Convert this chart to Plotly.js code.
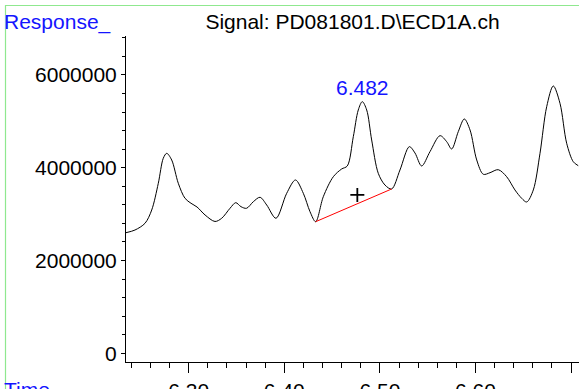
<!DOCTYPE html>
<html>
<head>
<meta charset="utf-8">
<script src="https://cdn.plot.ly/plotly-3.0.1.min.js"></script>
<style>
html,body{margin:0;padding:0;background:#fff;overflow:hidden;}
#chart{width:579px;height:389px;}
</style>
</head>
<body>
<div id="chart"></div>
<script>
// Retention time (min)
const time = [6.2344, 6.2438, 6.2543, 6.2613, 6.2682, 6.2734, 6.2770, 6.2822, 6.2891, 6.2961,
  6.3024, 6.3087, 6.3171, 6.3275, 6.3345, 6.3432, 6.3492, 6.3547, 6.3605, 6.3676,
  6.3746, 6.3816, 6.3913, 6.4025, 6.4117, 6.4199, 6.4269, 6.4328, 6.4408, 6.4513,
  6.4600, 6.4659, 6.4722, 6.4774, 6.4816, 6.4862, 6.4914, 6.4983, 6.5053, 6.5123,
  6.5210, 6.5308, 6.5367, 6.5437, 6.5524, 6.5629, 6.5699, 6.5751, 6.5820, 6.5883,
  6.5943, 6.6013, 6.6082, 6.6152, 6.6238, 6.6326, 6.6413, 6.6483, 6.6536, 6.6605,
  6.6675, 6.6745, 6.6814, 6.6884, 6.6954, 6.7023, 6.7075];
// Detector response
const response = [2599000, 2657000, 2802000, 3088000, 3664000, 4203000, 4310000, 4166000, 3664000, 3341000,
  3233000, 3153000, 2981000, 2841000, 2910000, 3125000, 3246000, 3160000, 3125000, 3267000,
  3362000, 3196000, 2910000, 3448000, 3735000, 3448000, 3052000, 2836000, 3375000, 3806000,
  3972000, 4037000, 4668000, 5244000, 5423000, 5244000, 4597000, 3879000, 3627000, 3541000,
  3950000, 4453000, 4317000, 4037000, 4345000, 4690000, 4560000, 4403000, 4776000, 5050000,
  4813000, 4166000, 3858000, 3892000, 3957000, 3806000, 3520000, 3341000, 3261000, 3520000,
  4310000, 5315000, 5761000, 5388000, 4526000, 4129000, 4043000];
// Integration baseline of the labelled peak
const baselineTime = [6.4328, 6.5123];
const baselineResponse = [2836000, 3541000];
// Labelled peak and its centroid marker
const peakTime = 6.4816;
const peakResponse = 5423000;
const peakLabel = "6.482";
const crossTime = [6.4764];
const crossResponse = [3412000];

const xRange = [6.2344, 6.7083];
const yRange = [-187500, 6838000];

const FONT = "Liberation Sans, Arial, sans-serif";
const FS = 21;
const BLUE = "#1414ff";
const GREEN = "#8fe88f";

const data = [
  {x: time, y: response, type: "scatter", mode: "lines",
   line: {color: "#000", width: 1, shape: "spline", smoothing: 0.9}, hoverinfo: "skip"},
  {x: baselineTime, y: baselineResponse, type: "scatter", mode: "lines",
   line: {color: "#ff0000", width: 1}, hoverinfo: "skip"},
  {x: crossTime, y: crossResponse, type: "scatter", mode: "markers",
   marker: {symbol: "cross-thin-open", size: 10, color: "#000", line: {color: "#000", width: 1.8}}, hoverinfo: "skip"}
];

const PL = 126, PT = 36, PW = 453, PH = 326;
const px2x = p => (p - PL) / PW;
const py2y = p => 1 - (p - PT) / PH;

const layout = {
  width: 579, height: 389,
  margin: {l: PL, r: 0, t: PT, b: 389 - PT - PH, pad: 0},
  paper_bgcolor: "#fff", plot_bgcolor: "#fff",
  showlegend: false,
  font: {family: FONT, size: FS, color: "#000"},
  title: {text: "Signal: PD081801.D\\ECD1A.ch", font: {family: FONT, size: FS, color: "#000"},
          x: 0.5, xref: "paper", xanchor: "center", y: 1 - 22/389, yref: "container", yanchor: "middle"},
  xaxis: {range: xRange, showgrid: false, zeroline: false, showline: true, linecolor: "#000", linewidth: 1,
          ticks: "outside", ticklen: 10, tickcolor: "#000", tickwidth: 1,
          tick0: 6.3, dtick: 0.1, tickformat: ".2f",
          tickfont: {family: FONT, size: FS, color: "#000"},
          minor: {ticks: "outside", ticklen: 5, tickcolor: "#000", dtick: 0.02, tick0: 6.3, showgrid: false}},
  yaxis: {range: yRange, showgrid: false, zeroline: false, showline: true, linecolor: "#000", linewidth: 1,
          ticks: "outside", ticklen: 4, tickcolor: "#000", tickwidth: 1,
          tick0: 0, dtick: 2000000, tickformat: "d",
          tickfont: {family: FONT, size: FS, color: "#000"},
          minor: {ticks: "outside", ticklen: 3, tickcolor: "#000", dtick: 400000, tick0: 0, showgrid: false}},
  annotations: [
    {text: peakLabel, x: peakTime, y: peakResponse, xref: "x", yref: "y", showarrow: false,
     xanchor: "center", yanchor: "bottom", yshift: 1, font: {family: FONT, size: FS, color: BLUE}},
    {text: "Response_", xref: "paper", yref: "paper", x: px2x(2), y: py2y(22),
     xanchor: "left", yanchor: "middle", showarrow: false, font: {family: FONT, size: FS, color: BLUE}},
    {text: "Time", xref: "paper", yref: "paper", x: px2x(2), y: py2y(389),
     xanchor: "left", yanchor: "middle", showarrow: false, font: {family: FONT, size: FS, color: BLUE}}
  ],
  shapes: [
    {type: "rect", xref: "paper", yref: "paper", x0: px2x(5.5), x1: px2x(640), y0: py2y(440), y1: py2y(5.5),
     line: {color: GREEN, width: 1.2}, fillcolor: "rgba(0,0,0,0)", layer: "above"}
  ]
};

Plotly.newPlot("chart", data, layout, {staticPlot: true, displayModeBar: false});
</script>
</body>
</html>
